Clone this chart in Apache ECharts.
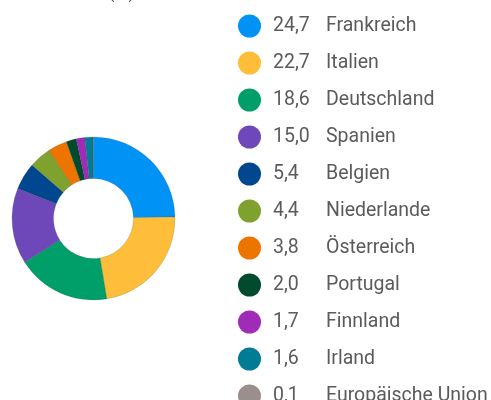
<!DOCTYPE html>
<html>
<head>
<meta charset="utf-8">
<script src="https://cdn.jsdelivr.net/npm/echarts@6/dist/echarts.min.js"></script>
<style>
  html, body { margin: 0; padding: 0; background: #ffffff; }
  #chart { width: 491px; height: 400px; }
</style>
</head>
<body>
<div id="chart"></div>
<script>
// Country breakdown in percent
const countries = ['Frankreich', 'Italien', 'Deutschland', 'Spanien', 'Belgien', 'Niederlande',
  'Österreich', 'Portugal', 'Finnland', 'Irland', 'Europäische Union'];
const shares = [24.7, 22.7, 18.6, 15.0, 5.4, 4.4, 3.8, 2.0, 1.7, 1.6, 0.1];
const colors = ['#0093f5', '#ffbe3a', '#009e69', '#6e48b8', '#00478f', '#7fa22e',
  '#ee7400', '#004b2d', '#a02bb8', '#007c96', '#9a8f8c'];
const titleText = 'Länder (%)';

const fmt = v => v.toFixed(1).replace('.', ',');
const shareByName = {};
countries.forEach((c, i) => { shareByName[c] = shares[i]; });

const chart = echarts.init(document.getElementById('chart'), null, { renderer: 'canvas' });
const fontFamily = 'Roboto, "Noto Sans", sans-serif';
const textColor = '#5b5b5b';
const fs = 19.5;

chart.setOption({
  animation: false,
  color: colors,
  textStyle: { fontFamily: fontFamily },
  title: {
    text: titleText,
    left: 40,
    top: -21,
    textStyle: { fontFamily: fontFamily, fontSize: 19, fontWeight: 'normal', color: textColor }
  },
  legend: {
    orient: 'vertical',
    left: 233,
    top: 9.5,
    height: 460,
    icon: 'circle',
    itemWidth: 23,
    itemHeight: 23,
    itemGap: 14,
    selectedMode: false,
    itemStyle: { borderWidth: 0 },
    formatter: name => '{v|' + fmt(shareByName[name]) + '}{n|' + name + '}',
    textStyle: {
      padding: [0, 0, 0, 7],
      color: textColor,
      fontFamily: fontFamily,
      fontSize: fs,
      lineHeight: 23,
      rich: {
        v: { width: 53, fontSize: fs, lineHeight: 23, color: textColor, fontFamily: fontFamily },
        n: { fontSize: fs, lineHeight: 23, color: textColor, fontFamily: fontFamily }
      }
    },
    data: countries
  },
  series: [{
    type: 'pie',
    center: [93.5, 218.5],
    radius: [40, 81.5],
    startAngle: 90,
    clockwise: true,
    label: { show: false },
    labelLine: { show: false },
    emphasis: { disabled: true },
    itemStyle: { borderColor: 'rgba(60,60,60,0.35)', borderWidth: 0.5 },
    data: countries.map((c, i) => ({ name: c, value: shares[i] }))
  }]
});
</script>
</body>
</html>
